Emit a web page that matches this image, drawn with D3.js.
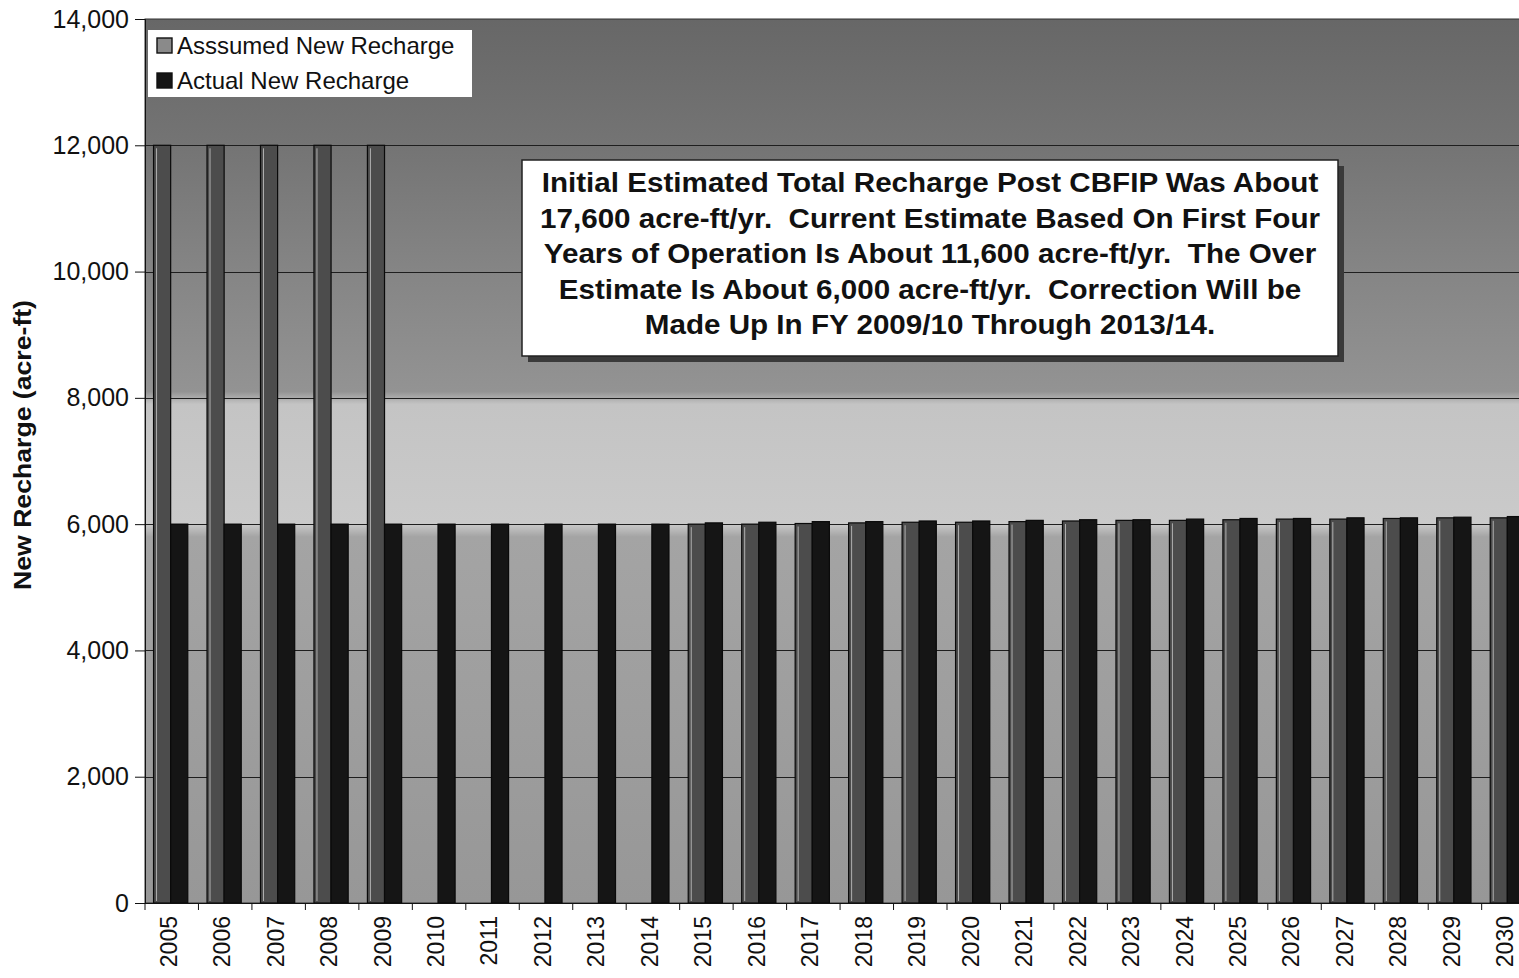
<!DOCTYPE html>
<html>
<head>
<meta charset="utf-8">
<script src="https://cdn.jsdelivr.net/npm/d3@7/dist/d3.min.js"></script>
<style>
  body { margin: 0; background: #fff; }
  svg { display: block; }
  text { font-family: "Liberation Sans", Arial, sans-serif; }
</style>
</head>
<body>
<svg id="chart" width="1519" height="978"></svg>
<script>
// Fiscal years on the category axis
const years = ["2005","2006","2007","2008","2009","2010","2011","2012","2013","2014",
  "2015","2016","2017","2018","2019","2020","2021","2022","2023","2024",
  "2025","2026","2027","2028","2029","2030"];

// New recharge assumed in the accounting (acre-ft)
const assumedRecharge = [12000,12000,12000,12000,12000, 0,0,0,0,0,
  6000,6000,6010,6020,6030,6030,6040,6050,6060,6060,6070,6080,6080,6090,6100,6100];

// New recharge actually observed / currently estimated (acre-ft)
const actualRecharge = [6000,6000,6000,6000,6000, 6000,6000,6000,6000,6000,
  6020,6030,6040,6040,6050,6050,6060,6070,6070,6080,6090,6090,6100,6100,6110,6120];

const seriesNames = ["Asssumed New Recharge", "Actual New Recharge"];
const yTicks = [0, 2000, 4000, 6000, 8000, 10000, 12000, 14000];
const yTitle = "New Recharge (acre-ft)";
const noteLines = [
  "Initial Estimated Total Recharge Post CBFIP Was About",
  "17,600 acre-ft/yr.  Current Estimate Based On First Four",
  "Years of Operation Is About 11,600 acre-ft/yr.  The Over",
  "Estimate Is About 6,000 acre-ft/yr.  Correction Will be",
  "Made Up In FY 2009/10 Through 2013/14."
];

const svg = d3.select("#chart");
const plot = { left: 145, right: 1533, top: 19, bottom: 903 };

const x = d3.scaleBand().domain(years).range([plot.left, plot.right])
  .paddingInner(0.36).paddingOuter(0.16);
const xSub = d3.scaleBand().domain([0, 1]).range([0, x.bandwidth()]);
const y = d3.scaleLinear().domain([0, 14000]).range([plot.bottom, plot.top]);

// Plot-area background: shaded fill, darker towards the top, lightest just above the bars
const defs = svg.append("defs");
const grad = defs.append("linearGradient").attr("id", "bg")
  .attr("gradientUnits", "userSpaceOnUse")
  .attr("x1", 0).attr("x2", 0).attr("y1", plot.top).attr("y2", plot.bottom);
const bgStops = [
  [14000, "#676767"], [12000, "#747474"], [10000, "#858585"], [8100, "#939393"],
  [7900, "#c4c4c4"], [6000, "#cacaca"], [5800, "#a4a4a4"], [0, "#979797"]
];
bgStops.forEach(([v, c]) => grad.append("stop")
  .attr("offset", (y(v) - plot.top) / (plot.bottom - plot.top)).attr("stop-color", c));

svg.append("rect")
  .attr("x", plot.left).attr("y", plot.top)
  .attr("width", plot.right - plot.left).attr("height", plot.bottom - plot.top)
  .attr("fill", "url(#bg)").attr("stroke", "#333").attr("stroke-width", 1);

// Horizontal gridlines
svg.append("g").selectAll("line").data(yTicks.filter(d => d > 0 && d < 14000)).join("line")
  .attr("x1", plot.left).attr("x2", plot.right)
  .attr("y1", d => Math.round(y(d)) + 0.5).attr("y2", d => Math.round(y(d)) + 0.5)
  .attr("stroke", "#1e1e1e").attr("stroke-width", 1);

// Bars
const fills = ["#4c4c4c", "#151515"];
const rows = years.map((yr, i) => ({ yr, vals: [assumedRecharge[i], actualRecharge[i]] }));
const groups = svg.append("g").selectAll("g").data(rows).join("g")
  .attr("transform", d => `translate(${x(d.yr)},0)`);
groups.selectAll("rect").data(d => d.vals.map((v, k) => ({ v, k }))).join("rect")
  .filter(d => d.v > 0)
  .attr("x", d => xSub(d.k))
  .attr("y", d => y(d.v))
  .attr("width", xSub.bandwidth())
  .attr("height", d => y(0) - y(d.v))
  .attr("fill", d => fills[d.k])
  .attr("stroke", "#0a0a0a").attr("stroke-width", 1.2);
// light inner edge on the assumed bars
groups.selectAll("line.hl").data(d => d.vals[0] > 0 ? [d.vals[0]] : []).join("line")
  .attr("class", "hl")
  .attr("x1", 3).attr("x2", 3)
  .attr("y1", d => y(d) + 3).attr("y2", y(0) - 2)
  .attr("stroke", "#b0b0b0").attr("stroke-width", 1);

// Y axis
const yAxis = d3.axisLeft(y).tickValues(yTicks).tickSize(10).tickPadding(6)
  .tickFormat(d3.format(","));
const gy = svg.append("g").attr("transform", `translate(${plot.left},0)`).call(yAxis);
gy.select(".domain").attr("stroke", "#111");
gy.selectAll(".tick line").attr("stroke", "#111");
gy.selectAll(".tick text").attr("font-size", 25).attr("fill", "#111")
  .attr("font-family", "'Liberation Sans', Arial, sans-serif");

// X axis: ticks at the category boundaries, labels rotated
svg.append("line").attr("x1", plot.left).attr("x2", plot.right)
  .attr("y1", plot.bottom + 0.5).attr("y2", plot.bottom + 0.5).attr("stroke", "#111");
const step = x.step();
svg.append("g").selectAll("line").data(d3.range(years.length + 1)).join("line")
  .attr("x1", i => plot.left + i * step).attr("x2", i => plot.left + i * step)
  .attr("y1", plot.bottom).attr("y2", plot.bottom + 7).attr("stroke", "#111");
svg.append("g").selectAll("text").data(years).join("text")
  .attr("transform", d => `translate(${x(d) + x.bandwidth() / 2 + 6},${plot.bottom + 13}) rotate(-90)`)
  .attr("text-anchor", "end")
  .attr("font-size", 23).attr("fill", "#111")
  .text(d => d);

// Y axis title
svg.append("text")
  .attr("transform", `translate(31,${(plot.top + plot.bottom) / 2 - 16}) rotate(-90)`)
  .attr("text-anchor", "middle")
  .attr("font-size", 23).attr("font-weight", "bold").attr("fill", "#111")
  .attr("textLength", 290).attr("lengthAdjust", "spacingAndGlyphs")
  .text(yTitle);

// Legend
const lg = svg.append("g").attr("transform", "translate(148,30)");
lg.append("rect").attr("width", 324).attr("height", 67).attr("fill", "#fff");
seriesNames.forEach((name, k) => {
  const row = lg.append("g").attr("transform", `translate(9,${16 + k * 35})`);
  row.append("rect").attr("x", 0).attr("y", -8).attr("width", 15).attr("height", 15)
    .attr("fill", k === 0 ? "#8a8a8a" : fills[k]).attr("stroke", "#111").attr("stroke-width", 1.4);
  row.append("text").attr("x", 20).attr("y", 8).attr("font-size", 24).attr("fill", "#111")
    .text(name);
});

// Annotation box
const nb = { x: 522, y: 160, w: 816, h: 196 };
svg.append("rect").attr("x", nb.x + 6).attr("y", nb.y + 6).attr("width", nb.w).attr("height", nb.h)
  .attr("fill", "#3a3a3a");
svg.append("rect").attr("x", nb.x).attr("y", nb.y).attr("width", nb.w).attr("height", nb.h)
  .attr("fill", "#fff").attr("stroke", "#222").attr("stroke-width", 1.5);
const note = svg.append("g").selectAll("text").data(noteLines).join("text")
  .attr("x", nb.x + nb.w / 2)
  .attr("y", (d, i) => nb.y + 32 + i * 35.5)
  .attr("text-anchor", "middle")
  .style("white-space", "pre")
  .attr("font-size", 27).attr("font-weight", "bold").attr("fill", "#111")
  .text(d => d);
// condense the note text uniformly so the longest line fills the box width
const natural = note.nodes().map(n => n.getComputedTextLength());
const squeeze = (nb.w - 36) / d3.max(natural);
note.attr("textLength", (d, i) => natural[i] * squeeze).attr("lengthAdjust", "spacingAndGlyphs");
</script>
</body>
</html>
